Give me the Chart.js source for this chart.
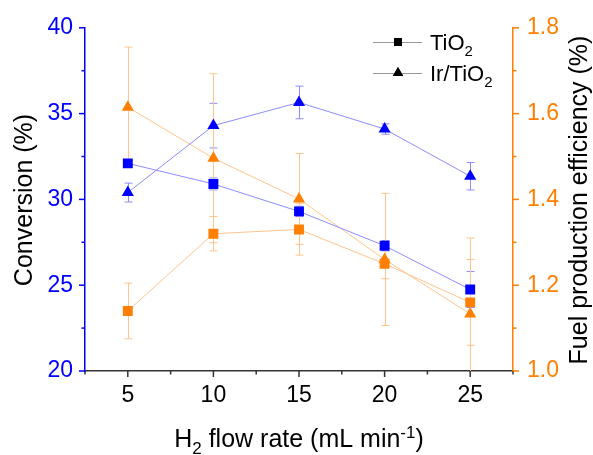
<!DOCTYPE html>
<html>
<head>
<meta charset="utf-8">
<script src="https://cdn.jsdelivr.net/npm/chart.js@4.4.1/dist/chart.umd.min.js"></script>
<style>
    html, body { margin: 0; padding: 0; background: #fff; }
    #wrap { width: 593px; height: 455px; position: relative; }
</style>
</head>
<body>
<div id="wrap"><canvas id="chart"></canvas></div>
<script>
// Data
const flowRates = [5, 10, 15, 20, 25];
const convTiO2 = [32.1, 30.9, 29.3, 27.3, 24.75];
const convTiO2Err = [0.15, 0.35, 0.3, 0.3, 1.05];
const convIr = [30.4, 34.3, 35.65, 34.1, 31.35];
const convIrErr = [0.55, 1.3, 0.95, 0.3, 0.8];
const effTiO2 = [1.14, 1.32, 1.33, 1.25, 1.16];
const effTiO2Err = [0.065, 0.04, 0.06, 0.035, 0.1];
const effIr = [1.615, 1.496, 1.401, 1.26, 1.133];
const effIrErr = [0.14, 0.197, 0.106, 0.154, 0.177];

const xTicks = [5, 10, 15, 20, 25];
const convTicks = [20, 25, 30, 35, 40];
const effTicks = [1.0, 1.2, 1.4, 1.6, 1.8];

const FONT = "'Liberation Sans', Arial, sans-serif";
const BLUE = '#0000ff';
const BLUE_LIGHT = '#8c8cff';
const ORANGE = '#ff7f00';
const ORANGE_LIGHT = '#ffc58c';
const TITLE_SIZE = 25;

function toPoints(ys) {
    return flowRates.map((x, i) => ({ x: x, y: ys[i] }));
}

// Minor ticks halfway between majors, plus the half steps past each end
function minorsOf(majors) {
    const step = majors[1] - majors[0];
    const out = [];
    for (let i = 0; i < majors.length - 1; i++) out.push((majors[i] + majors[i + 1]) / 2);
    out.push(majors[0] - step / 2, majors[majors.length - 1] + step / 2);
    return out;
}

function richWidth(ctx, parts, size) {
    let total = 0;
    parts.forEach(p => {
        ctx.font = (p.sub || p.sup ? size * 0.68 : size) + 'px ' + FONT;
        total += ctx.measureText(p.t).width;
    });
    return total;
}

// Draw text with sub/superscript pieces, starting at x on baseline y
function drawRich(ctx, parts, x, y, size) {
    ctx.textAlign = 'left';
    ctx.textBaseline = 'alphabetic';
    parts.forEach(p => {
        ctx.font = (p.sub || p.sup ? size * 0.68 : size) + 'px ' + FONT;
        let yy = y;
        if (p.sub) yy += size * 0.28;
        if (p.sup) yy -= size * 0.38;
        ctx.fillText(p.t, x, yy);
        x += ctx.measureText(p.t).width;
    });
}

// Error bars, drawn under the markers
const errorBarsPlugin = {
    id: 'errorBars',
    beforeDatasetsDraw(chart) {
        const ctx = chart.ctx;
        const area = chart.chartArea;
        const xs = chart.scales.x;
        ctx.save();
        ctx.beginPath();
        ctx.rect(area.left, area.top, area.right - area.left, area.bottom - area.top);
        ctx.clip();
        chart.data.datasets.forEach(ds => {
            const ys = chart.scales[ds.yAxisID];
            ctx.strokeStyle = ds.borderColor;
            ctx.lineWidth = 1;
            ds.data.forEach((pt, i) => {
                const e = ds.errors[i];
                const px = Math.round(xs.getPixelForValue(pt.x)) + 0.5;
                const top = ys.getPixelForValue(pt.y + e);
                const bot = ys.getPixelForValue(pt.y - e);
                ctx.beginPath();
                ctx.moveTo(px, top);
                ctx.lineTo(px, bot);
                ctx.moveTo(px - 4, top);
                ctx.lineTo(px + 4, top);
                ctx.moveTo(px - 4, bot);
                ctx.lineTo(px + 4, bot);
                ctx.stroke();
            });
        });
        ctx.restore();
    }
};

// Major/minor tick marks, axis titles and legend
const decorPlugin = {
    id: 'decor',
    afterDraw(chart) {
        const ctx = chart.ctx;
        const area = chart.chartArea;
        const xs = chart.scales.x, yc = chart.scales.yConv, ye = chart.scales.yEff;
        ctx.save();
        ctx.lineWidth = 1.5;

        ctx.strokeStyle = '#333';
        xTicks.forEach(v => { const p = xs.getPixelForValue(v); ctx.beginPath(); ctx.moveTo(p, area.bottom); ctx.lineTo(p, area.bottom + 6); ctx.stroke(); });
        minorsOf(xTicks).forEach(v => { const p = xs.getPixelForValue(v); ctx.beginPath(); ctx.moveTo(p, area.bottom); ctx.lineTo(p, area.bottom + 3.5); ctx.stroke(); });

        ctx.strokeStyle = BLUE;
        convTicks.forEach(v => { const p = yc.getPixelForValue(v); ctx.beginPath(); ctx.moveTo(area.left, p); ctx.lineTo(area.left - 6, p); ctx.stroke(); });
        minorsOf(convTicks).forEach(v => { if (v < yc.min || v > yc.max) return; const p = yc.getPixelForValue(v); ctx.beginPath(); ctx.moveTo(area.left, p); ctx.lineTo(area.left - 3.5, p); ctx.stroke(); });

        ctx.strokeStyle = ORANGE;
        effTicks.forEach(v => { const p = ye.getPixelForValue(v); ctx.beginPath(); ctx.moveTo(area.right, p); ctx.lineTo(area.right + 6, p); ctx.stroke(); });
        minorsOf(effTicks).forEach(v => { if (v < ye.min || v > ye.max) return; const p = ye.getPixelForValue(v); ctx.beginPath(); ctx.moveTo(area.right, p); ctx.lineTo(area.right + 3.5, p); ctx.stroke(); });

        ctx.fillStyle = '#000';

        // x-axis title
        const xTitle = [{ t: 'H' }, { t: '2', sub: true }, { t: ' flow rate (mL min' }, { t: '-1', sup: true }, { t: ')' }];
        const xw = richWidth(ctx, xTitle, TITLE_SIZE);
        drawRich(ctx, xTitle, (area.left + area.right) / 2 - xw / 2, 447, TITLE_SIZE);

        // y-axis titles, both reading bottom to top
        const midY = 200;
        [['Conversion (%)', 32], ['Fuel production efficiency (%)', 587]].forEach(([txt, bx]) => {
            ctx.save();
            ctx.translate(bx, midY);
            ctx.rotate(-Math.PI / 2);
            ctx.font = TITLE_SIZE + 'px ' + FONT;
            ctx.textAlign = 'center';
            ctx.textBaseline = 'alphabetic';
            ctx.fillText(txt, 0, 0);
            ctx.restore();
        });

        // legend
        const rows = [
            { label: [{ t: 'TiO' }, { t: '2', sub: true }], style: 'rect', y: 42 },
            { label: [{ t: 'Ir/TiO' }, { t: '2', sub: true }], style: 'triangle', y: 73 }
        ];
        rows.forEach(r => {
            ctx.strokeStyle = '#999';
            ctx.lineWidth = 1;
            ctx.beginPath();
            ctx.moveTo(373, r.y + 0.5);
            ctx.lineTo(422, r.y + 0.5);
            ctx.stroke();
            Chart.helpers.drawPoint(ctx, { pointStyle: r.style, radius: r.style === 'rect' ? 5.5 : 6, borderWidth: 0 }, 398, r.y);
            ctx.fillStyle = '#000';
            ctx.fill();
            drawRich(ctx, r.label, 430, r.y + 8, 22);
        });
        ctx.restore();
    }
};

function makeSet(label, ys, errs, axis, style, color, lineColor) {
    return {
        label: label,
        data: toPoints(ys),
        errors: errs,
        yAxisID: axis,
        showLine: true,
        borderColor: lineColor,
        borderWidth: 1,
        pointStyle: style,
        pointRadius: 7,
        pointHoverRadius: 7,
        pointBackgroundColor: color,
        pointBorderColor: color,
        pointBorderWidth: 0,
        tension: 0
    };
}

const chart = new Chart(document.getElementById('chart'), {
    type: 'line',
    data: {
        datasets: [
            makeSet('TiO2 conversion', convTiO2, convTiO2Err, 'yConv', 'rect', BLUE, BLUE_LIGHT),
            makeSet('Ir/TiO2 conversion', convIr, convIrErr, 'yConv', 'triangle', BLUE, BLUE_LIGHT),
            makeSet('TiO2 efficiency', effTiO2, effTiO2Err, 'yEff', 'rect', ORANGE, ORANGE_LIGHT),
            makeSet('Ir/TiO2 efficiency', effIr, effIrErr, 'yEff', 'triangle', ORANGE, ORANGE_LIGHT)
        ]
    },
    options: {
        responsive: true,
        maintainAspectRatio: false,
        animation: false,
        devicePixelRatio: 1,
        layout: { padding: { top: 26, left: 0, right: 0, bottom: 0 } },
        plugins: {
            legend: { display: false },
            tooltip: { enabled: false }
        },
        scales: {
            x: {
                type: 'linear',
                min: 2.5,
                max: 27.5,
                afterBuildTicks: s => { s.ticks = xTicks.map(v => ({ value: v })); },
                afterFit: s => { s.height = 84; },
                grid: { display: false, drawTicks: false },
                border: { display: true, color: '#333', width: 1.5 },
                ticks: {
                    color: '#000',
                    padding: 11,
                    maxRotation: 0,
                    font: { size: 23, family: FONT }
                }
            },
            yConv: {
                type: 'linear',
                position: 'left',
                min: 20,
                max: 40,
                afterBuildTicks: s => { s.ticks = convTicks.map(v => ({ value: v })); },
                afterFit: s => { s.width = 85; },
                grid: { display: false, drawTicks: false },
                border: { display: true, color: BLUE, width: 1.5 },
                ticks: {
                    color: BLUE,
                    padding: 12,
                    font: { size: 23, family: FONT }
                }
            },
            yEff: {
                type: 'linear',
                position: 'right',
                min: 1.0,
                max: 1.8,
                afterBuildTicks: s => { s.ticks = effTicks.map(v => ({ value: v })); },
                afterFit: s => { s.width = 80; },
                grid: { display: false, drawTicks: false },
                border: { display: true, color: ORANGE, width: 1.5 },
                ticks: {
                    color: ORANGE,
                    padding: 14,
                    callback: v => Number(v).toFixed(1),
                    font: { size: 23, family: FONT }
                }
            }
        }
    },
    plugins: [errorBarsPlugin, decorPlugin]
});
</script>
</body>
</html>
